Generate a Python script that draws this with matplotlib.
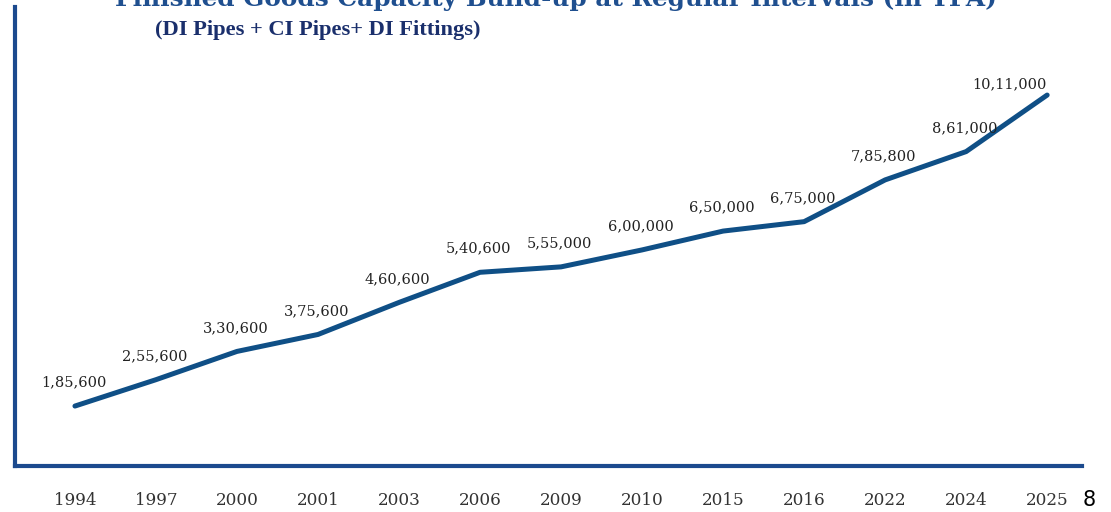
import matplotlib.pyplot as plt

# -----------------------
# Data
# -----------------------

years = ["1994", "1997", "2000", "2001", "2003", "2006", "2009",
         "2010", "2015", "2016", "2022", "2024", "2025"]
capacity = [185600, 255600, 330600, 375600, 460600, 540600, 555000,
            600000, 650000, 675000, 785800, 861000, 1011000]
labels = ["1,85,600", "2,55,600", "3,30,600", "3,75,600", "4,60,600",
          "5,40,600", "5,55,000", "6,00,000", "6,50,000", "6,75,000",
          "7,85,800", "8,61,000", "10,11,000"]

line_color = "#0f4f86"
axis_color = "#1c4a8e"
title_color = "#1f4f8f"

# -----------------------
# Figure
# -----------------------

fig = plt.figure(figsize=(11.11, 5.12), dpi=100)
W, H = 1111, 512
ax = fig.add_axes([15 / W, (H - 466) / H, (1082 - 15) / W, (466 - 7) / H])

x = list(range(len(years)))
ax.plot(x, capacity, color=line_color, linewidth=3.6, solid_capstyle="round")

for i, (v, lab) in enumerate(zip(capacity, labels)):
    if i == len(years) - 1:
        off = (-27, 8)
    else:
        off = (-1, 17)
    ax.annotate(lab, (i, v), xytext=off, textcoords="offset points",
                ha="center", va="center", fontsize=10.5,
                family="DejaVu Serif", color="#222222")

ax.set_xlim(-0.74, 12.43)
ax.set_ylim(26500, 1244700)

ax.set_xticks(x)
ax.set_xticklabels(years, family="DejaVu Serif", fontsize=12.2, color="#333333")
ax.tick_params(axis="x", length=0, pad=19)
ax.set_yticks([])

for s in ["top", "right"]:
    ax.spines[s].set_visible(False)
for s in ["left", "bottom"]:
    ax.spines[s].set_color(axis_color)
    ax.spines[s].set_linewidth(3)

# title, partly cut off at the top as in the slide
fig.text(0.5, 1 - 6 / H,
         "Finished Goods Capacity Build-up at Regular Intervals (in TPA)",
         ha="center", va="baseline", fontsize=17.8, fontweight="bold",
         family="DejaVu Serif", color=title_color)
fig.text(155 / W, 1 - 30 / H, "(DI Pipes + CI Pipes+ DI Fittings)",
         ha="left", va="center", fontsize=16.2, fontweight="bold",
         family="Liberation Serif", color="#1a2f6c")

# page number
fig.text(1089 / W, 1 - 500 / H, "8", ha="center", va="center",
         fontsize=15, color="black")

fig.savefig("out.png", dpi=100)
